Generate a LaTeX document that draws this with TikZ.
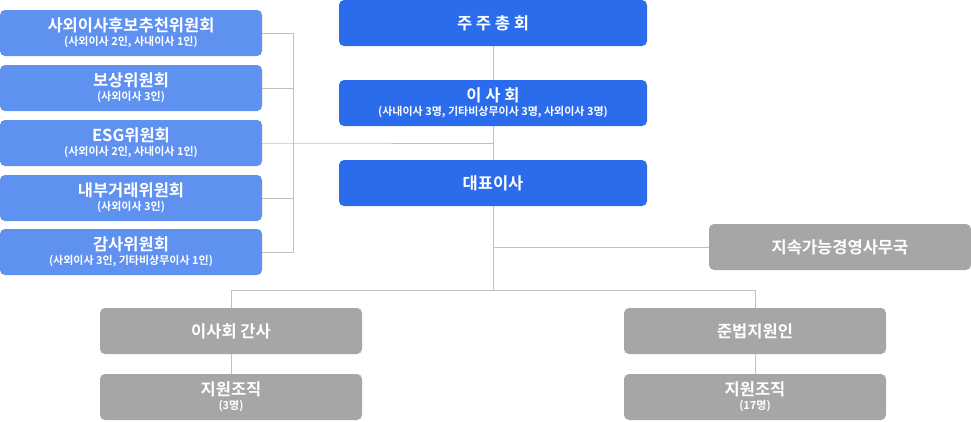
\documentclass[tikz,border=0pt]{standalone}
\usepackage{fontspec}
\setmainfont{Noto Sans CJK KR}[BoldFont={Noto Sans CJK KR Bold}]
\definecolor{mainblue}{RGB}{43,108,236}
\definecolor{subblue}{RGB}{94,145,240}
\definecolor{boxgray}{RGB}{166,166,166}
\definecolor{linegray}{RGB}{192,192,192}
\tikzset{
    orgbox/.style={rounded corners=5pt, minimum height=46pt, inner sep=0pt,
        text=white, align=center, font=\bfseries\fontsize{16.5}{18}\selectfont},
    topbox/.style={orgbox, fill=mainblue, minimum width=308pt},
    combox/.style={orgbox, fill=subblue, minimum width=262pt},
    graybox/.style={orgbox, fill=boxgray, minimum width=262pt},
    link/.style={draw=linegray, line width=1pt}
}
\newcommand{\subtxt}[1]{\\[-4pt]{\fontsize{11}{12}\selectfont #1}}
\begin{document}
\begin{tikzpicture}[x=1pt,y=-1pt]

    \useasboundingbox (0,0) rectangle (971,421);

    % main chain
    \node [topbox] (gm) at (493,23) {주 주 총 회};
    \node [topbox] (board) at (493,103) {이 사 회\subtxt{(사내이사 3명, 기타비상무이사 3명, 사외이사 3명)}};
    \node [topbox] (ceo) at (493,183) {대표이사};

    % committees
    \node [combox] (com1) at (131,33) {사외이사후보추천위원회\subtxt{(사외이사 2인, 사내이사 1인)}};
    \node [combox] (com2) at (131,88) {보상위원회\subtxt{(사외이사 3인)}};
    \node [combox] (com3) at (131,143) {ESG위원회\subtxt{(사외이사 2인, 사내이사 1인)}};
    \node [combox] (com4) at (131,198) {내부거래위원회\subtxt{(사외이사 3인)}};
    \node [combox] (com5) at (131,252) {감사위원회\subtxt{(사외이사 3인, 기타비상무이사 1인)}};

    % support units
    \node [graybox] (office) at (840,247) {지속가능경영사무국};
    \node [graybox] (sec) at (231,331) {이사회 간사};
    \node [graybox] (secsup) at (231,397) {지원조직\subtxt{(3명)}};
    \node [graybox] (comp) at (755,331) {준법지원인};
    \node [graybox] (compsup) at (755,397) {지원조직\subtxt{(17명)}};

    \coordinate (brk) at (293,143);
    \coordinate (split) at (493,290);

    % connectors
    \draw [link] (gm.south) -- (board.north);
    \draw [link] (board.south) -- (ceo.north);
    \draw [link] (com1.east) -| (brk);
    \draw [link] (com5.east) -| (brk);
    \draw [link] (com2.east) -- (com2.east -| brk);
    \draw [link] (com4.east) -- (com4.east -| brk);
    \draw [link] (com3.east) -- (brk) -- (board.south |- brk);
    \draw [link] (ceo.south) -- (split);
    \draw [link] (ceo.south |- office.west) -- (office.west);
    \draw [link] (split) -| (sec.north);
    \draw [link] (split) -| (comp.north);
    \draw [link] (sec.south) -- (secsup.north);
    \draw [link] (comp.south) -- (compsup.north);

\end{tikzpicture}
\end{document}
